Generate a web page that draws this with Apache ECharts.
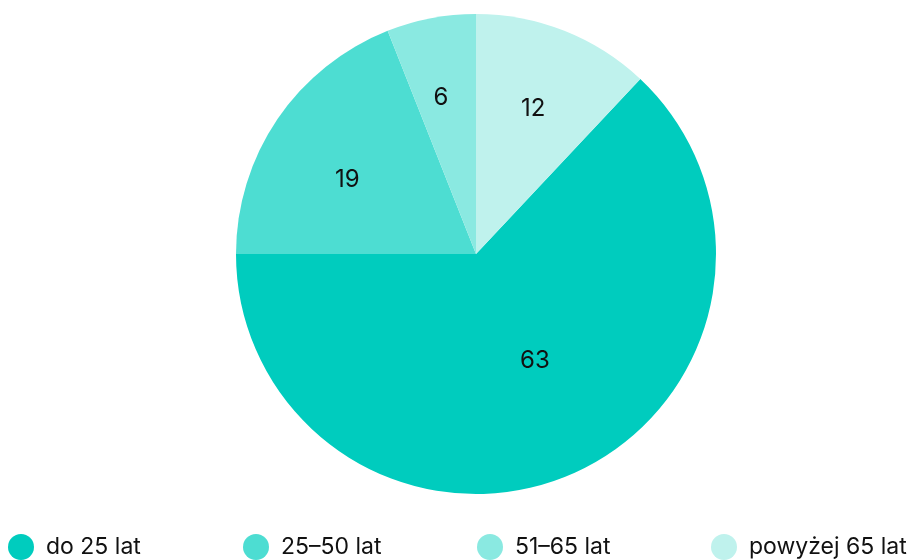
<!DOCTYPE html>
<html>
<head>
<meta charset="utf-8">
<script src="https://cdn.jsdelivr.net/npm/echarts@6/dist/echarts.min.js"></script>
<style>
  html, body { margin: 0; padding: 0; background: #fff; }
  #chart { width: 910px; height: 560px; }
</style>
</head>
<body>
<div id="chart"></div>
<script>
// dane
var categories = ['do 25 lat', '25–50 lat', '51–65 lat', 'powyżej 65 lat'];
var values = [63, 19, 6, 12];

// wygląd
var colors = ['#00CCBE', '#4DDDD2', '#8AE9E1', '#BFF2ED'];
var legendLeft = [8, 243, 477, 711];
var labelOffsets = [[10, -6], [-27, -5], [-12, -35], [12, -31]]; // etykiety dalej od środka, jak w oryginale

var chart = echarts.init(document.getElementById('chart'));

var legends = categories.map(function (name, i) {
    return {
        data: [name],
        left: legendLeft[i],
        top: 534,
        icon: 'circle',
        itemWidth: 26,
        itemHeight: 26,
        itemGap: 0,
        padding: 0,
        selectedMode: false,
        textStyle: { fontFamily: 'Inter', fontSize: 23, color: '#111', padding: [0, 0, 0, 7] }
    };
});

chart.setOption({
    animation: false,
    color: colors,
    legend: legends,
    series: [{
        type: 'pie',
        center: [476, 254],
        radius: 240,
        startAngle: 46.8,
        clockwise: true,
        label: {
            show: true,
            position: 'inside',
            formatter: '{c}',
            fontFamily: 'Inter',
            fontSize: 24,
            color: '#111'
        },
        labelLine: { show: false },
        emphasis: { disabled: true },
        data: categories.map(function (name, i) {
            return { name: name, value: values[i], label: { offset: labelOffsets[i] } };
        })
    }]
});
</script>
</body>
</html>
